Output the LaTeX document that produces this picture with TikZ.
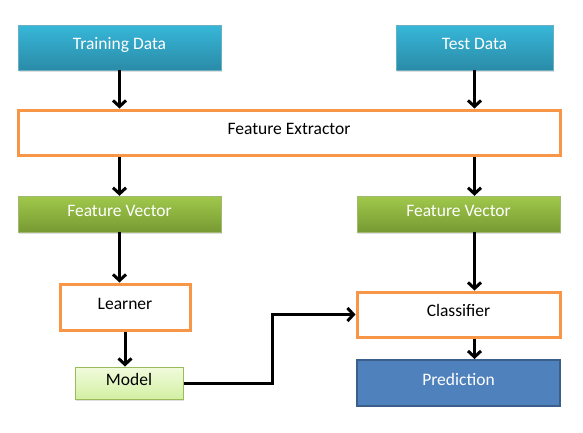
\documentclass[tikz,border=0pt]{standalone}
\usepackage{fontspec}
\setmainfont{Carlito}
\usetikzlibrary{positioning,arrows.meta,shadows}
\definecolor{datatop}{HTML}{37B7D9}
\definecolor{databot}{HTML}{2A8BA7}
\definecolor{vectop}{HTML}{A0C84B}
\definecolor{vecbot}{HTML}{779A33}
\definecolor{modeltop}{HTML}{F1FBDC}
\definecolor{modelbot}{HTML}{D2F0A3}
\definecolor{modelline}{HTML}{9BBB59}
\definecolor{stepline}{HTML}{F79646}
\definecolor{predfill}{HTML}{4F81BD}
\definecolor{predline}{HTML}{3A5F8B}

\begin{document}
\begin{tikzpicture}[x=1pt,y=-1pt,node distance=10pt,on grid,
  font=\fontsize{17.5}{20}\selectfont,
  box/.style={rectangle,minimum width=203pt,minimum height=45pt,inner sep=0pt,text height=12pt,text depth=8pt},
  shade/.style={drop shadow={opacity=0.25,shadow xshift=1pt,shadow yshift=-2pt}},
  data/.style={box,shade,top color=datatop,bottom color=databot,draw=databot!70,text=white},
  vector/.style={box,shade,minimum height=36pt,top color=vectop,bottom color=vecbot,draw=vecbot!70,text=white},
  stage/.style={box,fill=white,draw=stepline,line width=3pt},
  model/.style={box,shade,minimum width=108pt,minimum height=32pt,top color=modeltop,bottom color=modelbot,draw=modelline,line width=1pt},
  result/.style={box,minimum height=46pt,fill=predfill,draw=predline,line width=2pt,text=white},
  flow/.style={-{Straight Barb[length=6pt,width=13pt]},line width=3pt}]
  \useasboundingbox (0,0) rectangle (583,432);
  \node[data] (train) at (119.5,47.5) {Training Data};
  \node[data,minimum width=157pt] (test) [right=355pt of train] {Test Data};
  \node[stage,minimum width=542pt] (fe) at (289,132.5) {Feature Extractor};
  \node[vector] (fvL) [below=166.5pt of train] {Feature Vector};
  \node[vector] (fvR) [right=339pt of fvL] {Feature Vector};
  \node[stage,minimum width=130pt,minimum height=46pt] (learner) [below=93pt of fvL,xshift=5.5pt] {Learner};
  \node[model] (model) [below=76pt of learner,xshift=4pt] {Model};
  \node[stage] (cls) [below=100.5pt of fvR] {Classifier};
  \node[result] (pred) [below=68.5pt of cls] {Prediction};
  \draw[flow] (train.south) -- (train.south |- fe.north);
  \draw[flow] (test.south) -- (test.south |- fe.north);
  \draw[flow] (train.south |- fe.south) -- (fvL.north);
  \draw[flow] (test.south |- fe.south) -- (test.south |- fvR.north);
  \draw[flow] (fvL.south) -- (fvL.south |- learner.north);
  \draw[flow] (test.south |- fvR.south) -- (test.south |- cls.north);
  \draw[flow] (learner.south) -- (learner.south |- model.north);
  \draw[flow] (test.south |- cls.south) -- (test.south |- pred.north);
  \draw[flow] (model.east) -- ++(89,0) |- (cls.west);
\end{tikzpicture}
\end{document}
